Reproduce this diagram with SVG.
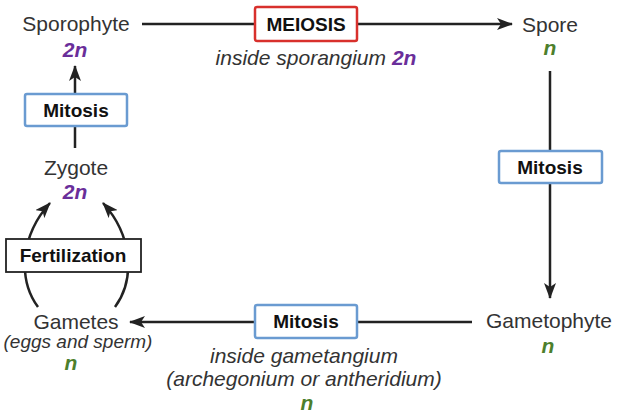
<svg xmlns="http://www.w3.org/2000/svg" width="628" height="418" viewBox="0 0 628 418">
<defs>
<marker id="ah" viewBox="0 0 16 12" refX="15" refY="6" markerWidth="16" markerHeight="12" markerUnits="userSpaceOnUse" orient="auto">
<path d="M0,0 L16,6 L0,12 L4,6 z" fill="#222"/>
</marker>
<style>
.lbl{font-family:"Liberation Sans",Arial,sans-serif;font-size:21px;fill:#333;text-anchor:middle}
.it{font-family:"Liberation Sans",Arial,sans-serif;font-style:italic;fill:#333;text-anchor:middle}
.dip{font-family:"Liberation Sans",Arial,sans-serif;font-size:21px;font-weight:bold;font-style:italic;fill:#6a2e9a;text-anchor:middle}
.hap{font-family:"Liberation Sans",Arial,sans-serif;font-size:21px;font-weight:bold;font-style:italic;fill:#4d7f2c;text-anchor:middle}
.box{fill:#fff;stroke-width:2.5}
.blue{stroke:#6a9bd1}
.red{stroke:#d8302c}
.blk{stroke:#222;stroke-width:1.8}
.bt{font-family:"Liberation Sans",Arial,sans-serif;font-size:19px;font-weight:bold;fill:#111;text-anchor:middle}
.con{fill:none;stroke:#222;stroke-width:2.5}
</style>
</defs>
<rect width="628" height="418" fill="#fff"/>
<g id="connectors">
<line class="con" x1="142" y1="24" x2="512" y2="24" marker-end="url(#ah)"/>
<line class="con" x1="550" y1="71" x2="550" y2="298" marker-end="url(#ah)"/>
<line class="con" x1="472" y1="322" x2="130" y2="322" marker-end="url(#ah)"/>
<line class="con" x1="75" y1="148" x2="75" y2="66" marker-end="url(#ah)"/>
<path class="con" d="M38,307 C18,280 20,236 50,203" marker-end="url(#ah)"/>
<path class="con" d="M115,307 C135,280 133,236 103,203" marker-end="url(#ah)"/>
</g>
<g id="sporophyte">
<text class="lbl" x="76" y="31">Sporophyte</text>
<text class="dip" x="75" y="57">2n</text>
</g>
<g id="spore">
<text class="lbl" x="550" y="32">Spore</text>
<text class="hap" x="550" y="55">n</text>
</g>
<g id="gametophyte">
<text class="lbl" x="549" y="328">Gametophyte</text>
<text class="hap" x="548" y="353">n</text>
</g>
<g id="gametes">
<text class="lbl" x="76" y="329">Gametes</text>
<text class="it" x="78" y="348" font-size="19">(eggs and sperm)</text>
<text class="hap" x="71" y="370">n</text>
</g>
<g id="zygote">
<text class="lbl" x="76" y="175">Zygote</text>
<text class="dip" x="75" y="199">2n</text>
</g>
<g id="meiosis">
<rect class="box red" x="255" y="7" width="102" height="34" rx="2"/>
<text class="bt" x="306" y="31">MEIOSIS</text>
<text class="it" x="316" y="65" font-size="21">inside sporangium <tspan font-weight="bold" fill="#6a2e9a">2n</tspan></text>
</g>
<g id="mitosis-right">
<rect class="box blue" x="499" y="151" width="103" height="32" rx="2"/>
<text class="bt" x="550" y="174">Mitosis</text>
</g>
<g id="mitosis-bottom">
<rect class="box blue" x="255" y="305" width="102" height="33" rx="2"/>
<text class="bt" x="306" y="328">Mitosis</text>
<text class="it" x="304" y="363" font-size="21">inside gametangium</text>
<text class="it" x="304" y="386" font-size="21">(archegonium or antheridium)</text>
<text class="hap" x="307" y="410">n</text>
</g>
<g id="mitosis-left">
<rect class="box blue" x="25" y="94" width="102" height="32" rx="2"/>
<text class="bt" x="76" y="117">Mitosis</text>
</g>
<g id="fertilization">
<rect class="box blk" x="6" y="239" width="135" height="33"/>
<text class="bt" x="73" y="262">Fertilization</text>
</g>
</svg>
